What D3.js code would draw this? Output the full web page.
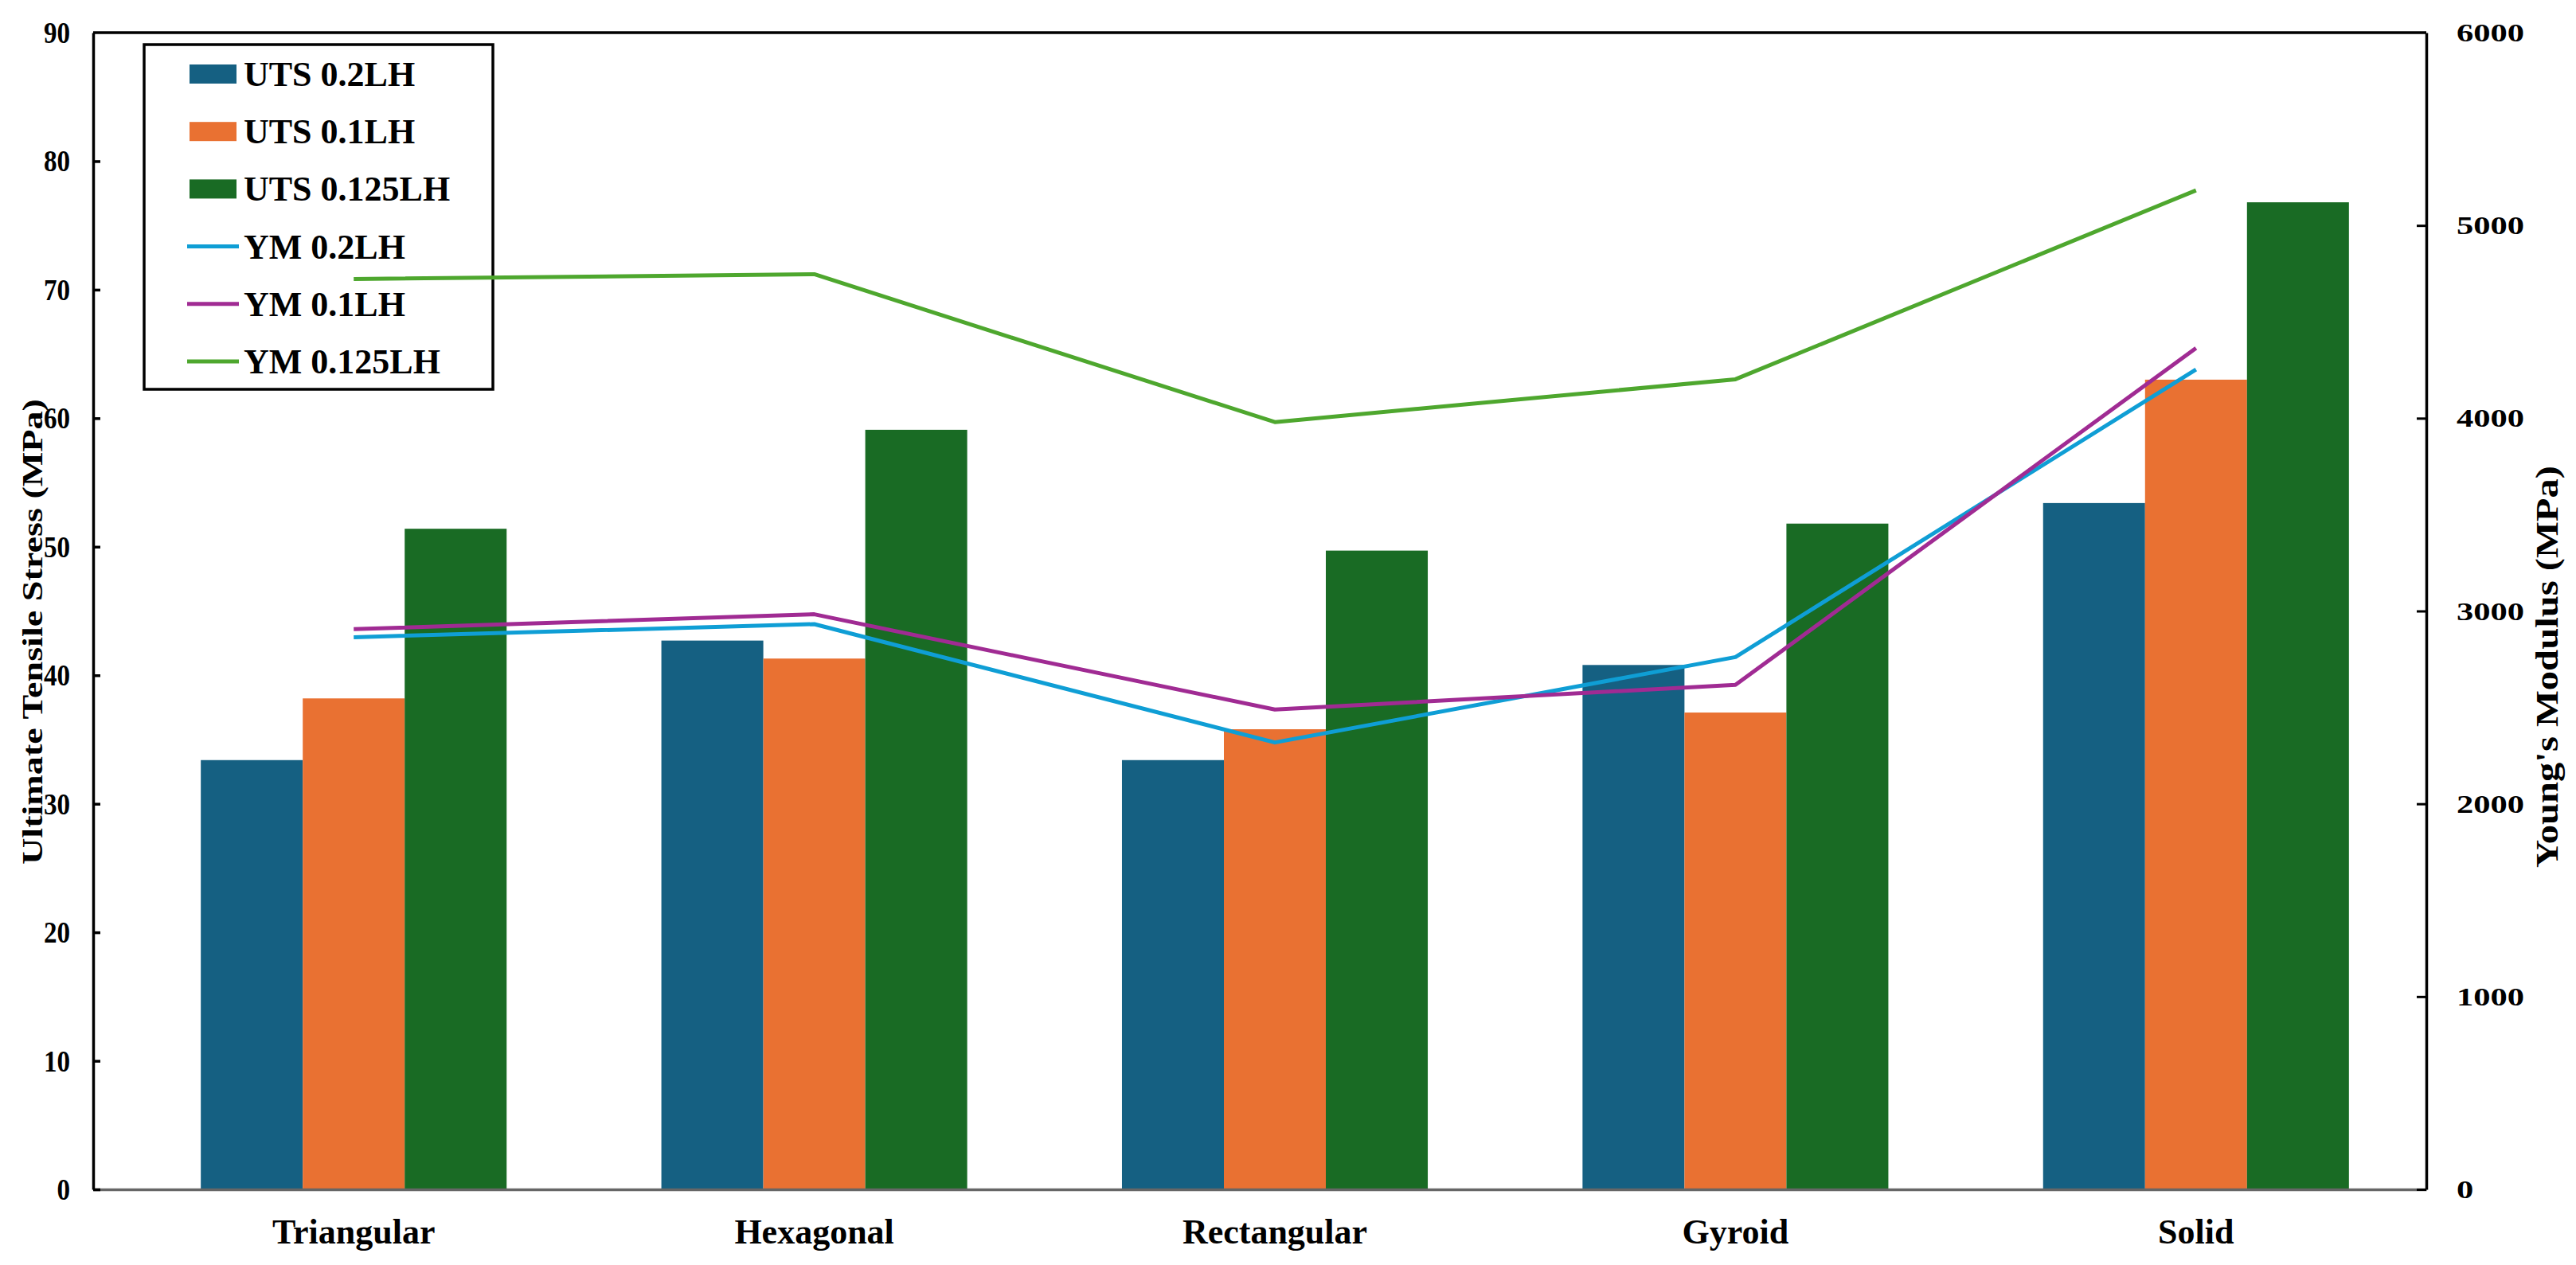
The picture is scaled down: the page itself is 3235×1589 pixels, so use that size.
<!DOCTYPE html>
<html lang="en">
<head>
  <meta charset="UTF-8">
  <title>UTS and Young's modulus by infill pattern</title>
  <style>
    body { margin: 0; background: #fff; }
    text { font-family: "Liberation Serif", "Times New Roman", serif; font-weight: bold; fill: #000; }
  </style>
</head>
<body>
<script src="https://cdn.jsdelivr.net/npm/d3@7"></script>
<div id="chart"></div>
<script>
  // ---- data ----
  const categories = ["Triangular", "Hexagonal", "Rectangular", "Gyroid", "Solid"];

  // ultimate tensile stress, MPa (left axis)
  const uts02  = [33.4, 42.7, 33.4, 40.8, 53.4];
  const uts01  = [38.2, 41.3, 35.8, 37.1, 63.0];
  const uts0125 = [51.4, 59.1, 49.7, 51.8, 76.8];

  // young's modulus, MPa (right axis)
  const ym02  = [2864, 2932, 2318, 2761, 4253];
  const ym01  = [2906, 2983, 2489, 2617, 4364];
  const ym0125 = [4722, 4747, 3980, 4202, 5182];

  const leftTicks  = [0, 10, 20, 30, 40, 50, 60, 70, 80, 90];
  const rightTicks = [0, 1000, 2000, 3000, 4000, 5000, 6000];

  const barSeries = [
    { name: "UTS 0.2LH",   values: uts02,   color: "#156082" },
    { name: "UTS 0.1LH",   values: uts01,   color: "#E97132" },
    { name: "UTS 0.125LH", values: uts0125, color: "#196B24" }
  ];
  const lineSeries = [
    { name: "YM 0.2LH",   values: ym02,   color: "#0F9ED5" },
    { name: "YM 0.1LH",   values: ym01,   color: "#A02B93" },
    { name: "YM 0.125LH", values: ym0125, color: "#4EA72E" }
  ];

  // ---- layout ----
  const W = 3235, H = 1589;
  const margin = { left: 117, right: 3047, top: 41, bottom: 1494 };

  const svg = d3.select("#chart").append("svg")
    .attr("width", W).attr("height", H);

  svg.append("rect").attr("width", W).attr("height", H).attr("fill", "#fff");

  // scales
  const x = d3.scaleBand()
    .domain(categories)
    .range([155, margin.right])
    .paddingInner(0.336)
    .paddingOuter(0.168);

  const xSub = d3.scaleBand()
    .domain(barSeries.map(d => d.name))
    .range([0, x.bandwidth()]);

  const yL = d3.scaleLinear().domain([0, 90]).range([margin.bottom, margin.top]);
  const yR = d3.scaleLinear().domain([0, 6000]).range([margin.bottom, margin.top]);

  // squeezed / stretched text helper (the figure's fonts are not all at natural width)
  function label(g, str, px, py, size, sx, anchor) {
    return g.append("text")
      .attr("transform", `translate(${px},${py}) scale(${sx},1)`)
      .attr("text-anchor", anchor)
      .attr("font-size", size)
      .text(str);
  }

  // ---- bars ----
  const groups = svg.append("g").selectAll("g")
    .data(categories)
    .join("g")
      .attr("transform", d => `translate(${x(d)},0)`);

  groups.selectAll("rect")
    .data((c, i) => barSeries.map(s => ({ name: s.name, color: s.color, v: s.values[i] })))
    .join("rect")
      .attr("x", d => xSub(d.name))
      .attr("width", xSub.bandwidth())
      .attr("y", d => yL(d.v))
      .attr("height", d => yL(0) - yL(d.v))
      .attr("fill", d => d.color);

  // ---- axes ----
  // bottom axis line (grey)
  svg.append("g")
    .attr("transform", `translate(0,${margin.bottom})`)
    .call(d3.axisBottom(d3.scaleLinear().domain([0, 1]).range([margin.left, margin.right]))
      .tickValues([]).tickSizeOuter(0))
    .call(g => g.select(".domain").attr("stroke", "#666").attr("stroke-width", 3.5));

  // top border
  svg.append("line")
    .attr("x1", margin.left).attr("x2", margin.right)
    .attr("y1", margin.top).attr("y2", margin.top)
    .attr("stroke", "#000").attr("stroke-width", 3.5);

  const axL = svg.append("g")
    .attr("transform", `translate(${margin.left},0)`)
    .call(d3.axisLeft(yL).tickValues(leftTicks.slice(0, -1)).tickSize(-9).tickSizeOuter(0).tickFormat(""));
  axL.select(".domain").attr("stroke", "#000").attr("stroke-width", 3.5);
  axL.selectAll(".tick line").attr("stroke", "#000").attr("stroke-width", 3.5);

  const axR = svg.append("g")
    .attr("transform", `translate(${margin.right},0)`)
    .call(d3.axisRight(yR).tickValues(rightTicks.slice(0, -1)).tickSize(-12).tickSizeOuter(0).tickFormat(""));
  axR.select(".domain").attr("stroke", "#000").attr("stroke-width", 3.5);
  axR.selectAll(".tick line").attr("stroke", "#000").attr("stroke-width", 3);

  // tick labels
  const tl = svg.append("g");
  leftTicks.forEach(t => label(tl, t, 88, yL(t) + 13, 38, 0.87, "end"));
  rightTicks.forEach(t => label(tl, t, 3085, yR(t) + 11, 32, 1.33, "start"));
  categories.forEach(c => label(tl, c, x(c) + x.bandwidth() / 2, 1562, 44, 1, "middle"));

  // axis titles
  svg.append("text")
    .attr("transform", `translate(53,${(margin.top + margin.bottom) / 2 + 26}) rotate(-90)`)
    .attr("text-anchor", "middle")
    .attr("font-size", 36)
    .attr("textLength", 585)
    .attr("lengthAdjust", "spacingAndGlyphs")
    .text("Ultimate Tensile Stress  (MPa)");

  svg.append("text")
    .attr("transform", `translate(3212,${(margin.top + margin.bottom) / 2 + 70}) rotate(-90)`)
    .attr("text-anchor", "middle")
    .attr("font-size", 40)
    .attr("textLength", 505)
    .attr("lengthAdjust", "spacingAndGlyphs")
    .text("Young's Modulus (MPa)");

  // ---- legend ----
  const lg = svg.append("g");
  lg.append("rect")
    .attr("x", 181).attr("y", 56)
    .attr("width", 438).attr("height", 433)
    .attr("fill", "#fff")
    .attr("stroke", "#000").attr("stroke-width", 3.5);

  const rowY = d3.scalePoint()
    .domain(barSeries.concat(lineSeries).map(d => d.name))
    .range([93, 454]);

  barSeries.forEach(s => {
    lg.append("rect")
      .attr("x", 238).attr("y", rowY(s.name) - 12)
      .attr("width", 59).attr("height", 24)
      .attr("fill", s.color);
    label(lg, s.name, 306, rowY(s.name) + 15, 44, 1, "start");
  });
  lineSeries.forEach(s => {
    lg.append("line")
      .attr("x1", 235).attr("x2", 300)
      .attr("y1", rowY(s.name)).attr("y2", rowY(s.name))
      .attr("stroke", s.color).attr("stroke-width", 5);
    label(lg, s.name, 306, rowY(s.name) + 15, 44, 1, "start");
  });

  // ---- lines (drawn over the legend box, as in the figure) ----
  const cx = c => x(c) + x.bandwidth() / 2;
  lineSeries.forEach(s => {
    svg.append("path")
      .datum(s.values)
      .attr("fill", "none")
      .attr("stroke", s.color)
      .attr("stroke-width", 5)
      .attr("stroke-linejoin", "round")
      .attr("d", d3.line()
        .x((d, i) => cx(categories[i]))
        .y(d => yR(d)));
  });
</script>
</body>
</html>
